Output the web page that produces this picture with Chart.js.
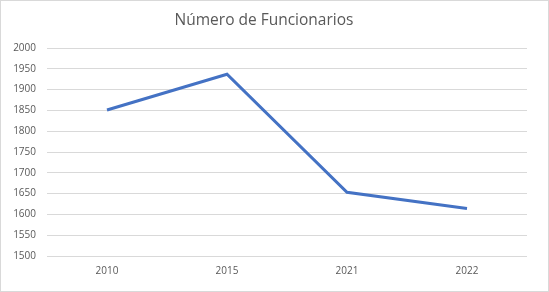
<!DOCTYPE html>
<html><head><meta charset="utf-8">
<script src="https://cdn.jsdelivr.net/npm/chart.js@4"></script>
<style>
html,body{margin:0;padding:0;background:#fff;}
#wrap{width:549px;height:292px;box-sizing:border-box;border:1px solid #d9d9d9;position:relative;}
canvas{display:block;}
</style></head>
<body>
<div id="wrap"><canvas id="c" width="547" height="290"></canvas></div>
<script>
const years = ["2010", "2015", "2021", "2022"];
const funcionarios = [1851, 1937, 1653, 1614];
const yTicks = [1500, 1550, 1600, 1650, 1700, 1750, 1800, 1850, 1900, 1950, 2000];
const chartTitle = "Número de Funcionarios";

new Chart(document.getElementById('c'), {
  type: 'line',
  data: {
    labels: years,
    datasets: [{
      label: chartTitle,
      data: funcionarios,
      borderColor: '#4472C4',
      borderWidth: 3,
      pointRadius: 0,
      tension: 0,
      fill: false
    }]
  },
  options: {
    responsive: false,
    animation: false,
    layout: { padding: { left: 0, right: 21, top: 0, bottom: 0 } },
    plugins: {
      legend: { display: false },
      tooltip: { enabled: false },
      title: {
        display: true,
        text: chartTitle,
        color: '#595959',
        font: { family: 'Open Sans', size: 15.5, weight: 'normal', lineHeight: 1.2 },
        padding: { top: 10, bottom: 18.4 }
      }
    },
    scales: {
      x: {
        offset: true,
        grid: { display: false, drawTicks: false },
        border: { display: false },
        ticks: { color: '#595959', font: { family: 'Open Sans', size: 10 }, padding: 9 },
        afterFit: s => { s.height = 35; }
      },
      y: {
        min: 1500, max: 2000,
        afterBuildTicks: s => { s.ticks = yTicks.map(v => ({ value: v })); },
        grid: { color: '#d9d9d9', lineWidth: 1, drawTicks: false },
        border: { display: false },
        ticks: { color: '#595959', font: { family: 'Open Sans', size: 10 }, padding: 11,
                 callback: v => String(v) },
        afterFit: s => { s.width = 46; }
      }
    }
  }
});
</script>
</body></html>
